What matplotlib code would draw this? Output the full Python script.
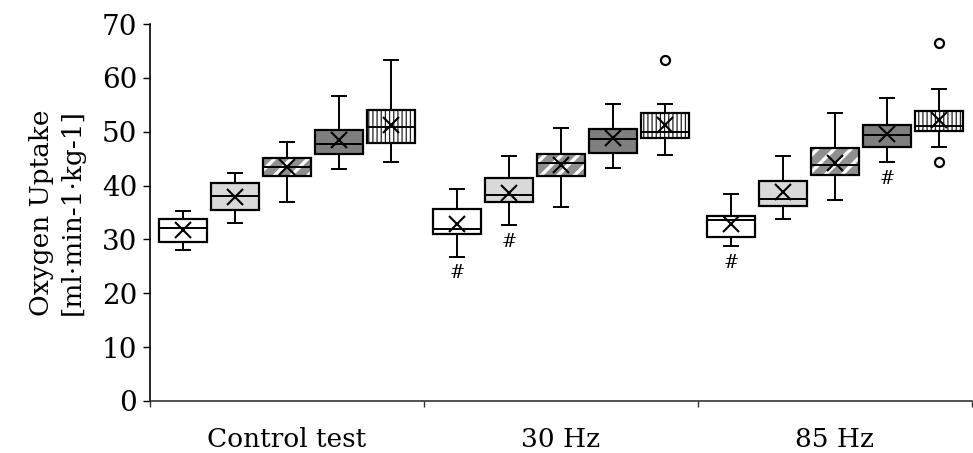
import numpy as np
import matplotlib
matplotlib.use('Agg')
import matplotlib.pyplot as plt

plt.rcParams['font.family'] = 'DejaVu Serif'

# DATA
conditions = ['Control test', '30 Hz', '85 Hz']

# one row per box series, one column per condition
whisker_low = [[28.1, 26.8, 28.8],
               [33.1, 32.6, 33.7],
               [37.0, 36.0, 37.3],
               [43.0, 43.3, 44.3],
               [44.3, 45.6, 47.2]]
q1 = [[29.5, 31.0, 30.5],
      [35.5, 36.9, 36.2],
      [41.7, 41.8, 41.9],
      [45.8, 46.0, 47.2],
      [47.9, 48.9, 50.2]]
median = [[32.1, 32.0, 33.6],
          [38.1, 38.3, 37.5],
          [43.5, 44.1, 43.8],
          [47.7, 48.6, 49.3],
          [50.8, 49.9, 51.0]]
q3 = [[33.8, 35.6, 34.4],
      [40.5, 41.4, 40.9],
      [45.2, 45.9, 46.9],
      [50.4, 50.5, 51.2],
      [54.1, 53.5, 53.8]]
whisker_high = [[35.2, 39.3, 38.5],
                [42.3, 45.4, 45.4],
                [48.1, 50.7, 53.5],
                [56.7, 55.2, 56.2],
                [63.4, 55.2, 58.0]]
means = [[31.8, 32.9, 32.8],
         [37.8, 38.6, 38.8],
         [43.4, 43.9, 44.2],
         [48.5, 48.8, 49.6],
         [51.3, 51.3, 52.2]]
outliers = [[[], [], []],
            [[], [], []],
            [[], [], []],
            [[], [], []],
            [[], [63.3], [66.4, 44.3]]]

# (series, condition) boxes marked with '#'
marks = [(0, 1), (1, 1), (0, 2), (3, 2)]

# STYLE per series
fills = ['white', '#d9d9d9', '#8f8f8f', '#7f7f7f', 'white']
hatches = [None, None, '//', None, '||||']
hatch_colors = ['black', 'black', 'white', 'black', '#222222']
hatch_widths = [1.0, 1.0, 2.4, 1.0, 0.9]

fig, ax = plt.subplots(figsize=(9.73, 4.53), dpi=100)
fig.subplots_adjust(left=0.154, right=0.999, bottom=0.115, top=0.947)

step = 0.19
width = 0.175
centers = np.arange(len(conditions)) + 0.5

for j in range(len(fills)):
    pos = centers + (j - 2) * step
    stats = []
    for i in range(len(conditions)):
        stats.append(dict(whislo=whisker_low[j][i], q1=q1[j][i], med=median[j][i],
                          q3=q3[j][i], whishi=whisker_high[j][i],
                          mean=means[j][i], fliers=outliers[j][i]))
    # fill (and hatch) layer
    with plt.rc_context({'hatch.linewidth': hatch_widths[j]}):
        ax.bxp(stats, positions=pos, widths=width, patch_artist=True,
               showcaps=False, showfliers=False, showmeans=False,
               boxprops=dict(facecolor=fills[j], edgecolor=hatch_colors[j],
                             hatch=hatches[j], linewidth=0),
               whiskerprops=dict(linewidth=0), medianprops=dict(linewidth=0),
               manage_ticks=False, zorder=2)
    # outline layer
    ax.bxp(stats, positions=pos, widths=width, patch_artist=True,
           showmeans=True, showfliers=True, capwidths=0.05,
           boxprops=dict(facecolor='none', edgecolor='black', linewidth=1.6),
           whiskerprops=dict(color='black', linewidth=1.4),
           capprops=dict(color='black', linewidth=1.4),
           medianprops=dict(color='black', linewidth=1.4),
           meanprops=dict(marker='x', markersize=11, markeredgecolor='black',
                          markeredgewidth=1.5),
           flierprops=dict(marker='o', markersize=6.5, markerfacecolor='white',
                           markeredgecolor='black', markeredgewidth=1.6),
           manage_ticks=False, zorder=3)

for j, i in marks:
    ax.annotate('#', xy=(centers[i] + (j - 2) * step, whisker_low[j][i]),
                xytext=(0, -12), textcoords='offset points',
                ha='center', va='center', fontsize=13)

ax.set_xlim(0, 3)
ax.set_ylim(0, 70)
ax.set_yticks(np.arange(0, 71, 10))
ax.set_xticks([0, 1, 2, 3])
ax.set_xticklabels([])
ax.set_xticks(centers, minor=True)
ax.set_xticklabels(conditions, minor=True)
ax.tick_params(axis='x', which='major', length=4, width=1, color='#333333')
ax.tick_params(axis='x', which='minor', length=0, pad=19, labelsize=19)
ax.tick_params(axis='y', length=5, width=1, labelsize=20, pad=4)
ax.spines['top'].set_visible(False)
ax.spines['right'].set_visible(False)
ax.spines['left'].set_linewidth(1.2)
ax.spines['bottom'].set_linewidth(1.2)
ax.spines['bottom'].set_color('#333333')
ax.set_ylabel('Oxygen Uptake\n[ml·min-1·kg-1]', fontsize=19, linespacing=1.3,
              labelpad=12)

fig.savefig('out.png', dpi=100)
